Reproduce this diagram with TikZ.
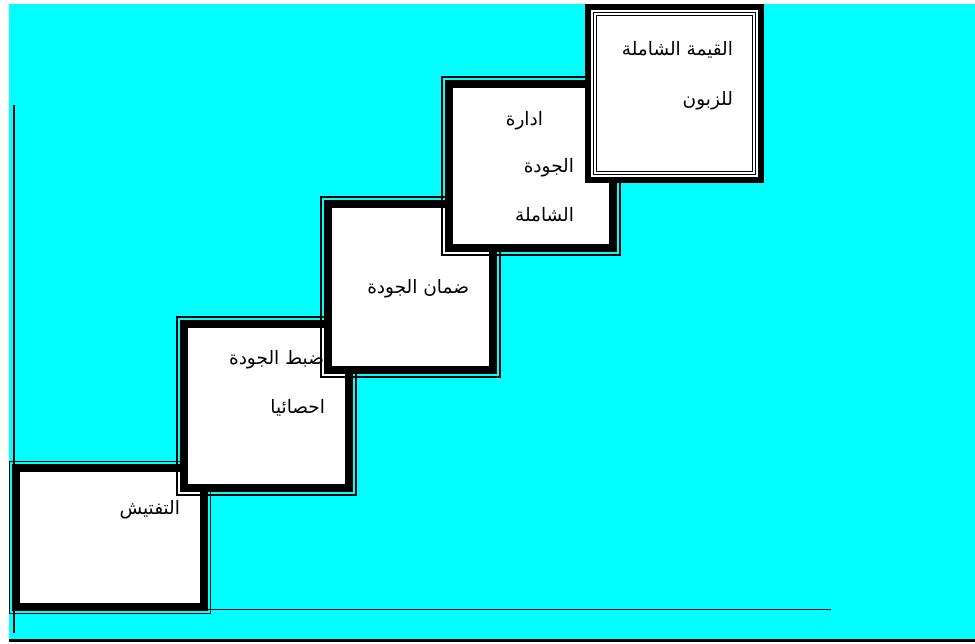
\documentclass[tikz,border=0pt]{standalone}
\usepackage{fontspec}
\usetikzlibrary{calc}
\TeXXeTstate=1
\newfontfamily\arabicfont[Script=Arabic]{DejaVu Sans}
\definecolor{bgcyan}{RGB}{0,255,255}
\tikzset{
  stairbox/.style={draw=black, fill=white, line width=8pt, inner sep=0pt, outer sep=0pt},
  topbox/.style={draw=black, fill=white, line width=6pt, inner sep=0pt, outer sep=0pt},
  thinframe/.style={draw=black, line width=1.5pt},
  innerthin/.style={draw=black, line width=1.2pt},
  axisline/.style={draw=black, line width=1.8pt},
  label/.style={inner sep=0pt, outer sep=0pt, anchor=east, font=\arabicfont\fontsize{18.5}{22}\selectfont}
}
\begin{document}
\begin{tikzpicture}[x=1pt,y=-1pt]
\useasboundingbox (0,0) rectangle (975,643);
\fill[white] (0,0) rectangle (975,643);
\fill[bgcyan] (9,4) rectangle (975,641);
\draw[line width=2.8pt] (9,640.5) -- (975,640.5);
% axes
\coordinate (yaxtop) at (14,105);
\coordinate (yaxbot) at (14,633);
\coordinate (xaxleft) at (14,609.5);
\coordinate (xaxright) at (831,609.5);
\draw[axisline] (yaxtop) -- (yaxbot);
\draw[axisline] (xaxleft) -- (xaxright);
% box 1
\node[stairbox, minimum width=188pt, minimum height=139pt] (b1) at (110,537.5) {};
\draw[thinframe] ($(b1.north west)+(-6.3,-6.3)$) rectangle ($(b1.south east)+(6.3,6.3)$);
\node[label] (t1) at (180,510) {\beginR التفتيش\endR};
% box 2
\draw[thinframe] (177,317) rectangle (356,495);
\node[stairbox, minimum width=165pt, minimum height=164pt] (b2) at (266.5,406) {};
\node[label] (t2a) at (324,360) {\beginR ضبط الجودة\endR};
\node[label] (t2b) at (325,408) {\beginR احصائيا\endR};
% box 3
\draw[thinframe] (321,197) rectangle (500,377);
\node[stairbox, minimum width=165pt, minimum height=166pt] (b3) at (410.5,287) {};
\node[label] (t3) at (469,289) {\beginR ضمان الجودة\endR};
% box 4
\draw[thinframe] (442,77) rectangle (620,255);
\node[stairbox, minimum width=164pt, minimum height=164pt] (b4) at (531,166) {};
\node[label] (t4a) at (543,121) {\beginR ادارة\endR};
\node[label] (t4b) at (574,168) {\beginR الجودة\endR};
\node[label] (t4c) at (574,215) {\beginR الشاملة\endR};
% box 5
\node[topbox, minimum width=173pt, minimum height=173pt] (b5) at (674.5,93.5) {};
\draw[innerthin] ($(b5.north west)+(5.6,5.6)$) rectangle ($(b5.south east)+(-5.6,-5.6)$);
\draw[innerthin] ($(b5.north west)+(8.6,8.6)$) rectangle ($(b5.south east)+(-8.6,-8.6)$);
\node[label] (t5a) at (733,50) {\beginR القيمة الشاملة\endR};
\node[label] (t5b) at (733,101) {\beginR للزبون\endR};
\end{tikzpicture}
\end{document}
